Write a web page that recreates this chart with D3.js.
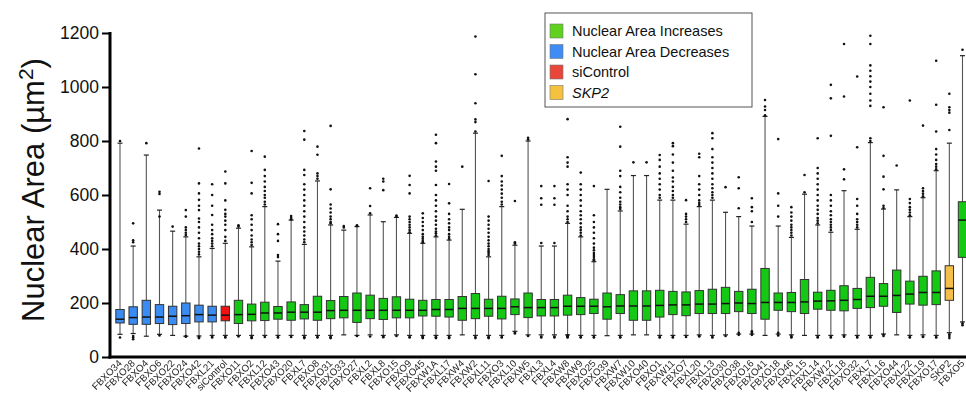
<!DOCTYPE html>
<html>
<head>
<meta charset="utf-8">
<script src="https://cdnjs.cloudflare.com/ajax/libs/d3/7.8.5/d3.min.js"></script>
<style>
  body { margin: 0; background: #fff; }
  svg { display: block; font-family: Arial, "Liberation Sans", sans-serif; }
  .xlabels { opacity: 0.99; }
</style>
</head>
<body>
<svg id="chart" width="966" height="394"></svg>
<script>
// knockdown targets, in plot order
const categories = ['FBXO34','FBXO28','FBXO4','FBXO6','FBXO22','FBXO24','FBXO42','FBXL21','siControl','FBXO11',
  'FBXO2','FBXL12','FBXO43','FBXO20','FBXL7','FBXO8','FBXO31','FBXO33','FBXO27','FBXL2',
  'FBXL8','FBXO15','FBXO9','FBXO45','FBXW1A','FBXL17','FBXW4','FBXW2','FBXL11','FBXO3',
  'FBXL10','FBXW5','FBXL3','FBXL4','FBXW8','FBXW9','FBXO25','FBXO39','FBXW7','FBXW10',
  'FBXO40','FBXO1','FBXW11','FBXO7','FBXL20','FBXL13','FBXO30','FBXO38','FBXO16','FBXO41',
  'FBXO18','FBXO46','FBXL15','FBXL14','FBXW12','FBXL18','FBXO32','FBXL7','FBXL16','FBXO44',
  'FBXL22','FBXL19','FBXO17','SKP2','FBXO5'];

// group of each box: dec / ctrl / inc / skp2
const groups = ['dec','dec','dec','dec','dec','dec','dec','dec','ctrl','inc',
  'inc','inc','inc','inc','inc','inc','inc','inc','inc','inc',
  'inc','inc','inc','inc','inc','inc','inc','inc','inc','inc',
  'inc','inc','inc','inc','inc','inc','inc','inc','inc','inc',
  'inc','inc','inc','inc','inc','inc','inc','inc','inc','inc',
  'inc','inc','inc','inc','inc','inc','inc','inc','inc','inc',
  'inc','inc','inc','skp2','inc'];

const q1 = [126,121,121,124,120,124,130,130,134,124, 134,135,140,136,141,136,142,145,128,142,
  139,145,145,152,151,148,136,142,151,141, 157,146,152,152,155,157,161,140,161,136,
  136,148,157,153,161,161,161,168,161,140, 173,168,161,177,173,171,180,183,188,165,
  196,192,194,210,369];
const medians = [140,146,148,148,151,153,157,155,155,157, 158,163,163,166,166,166,172,173,173,173,
  173,173,173,173,176,176,180,180,180,180, 186,183,183,183,188,188,188,186,189,189,
  189,191,193,193,196,196,198,200,198,202, 202,202,204,207,208,210,213,225,225,228,
  233,239,239,254,507];
const q3 = [176,186,210,194,188,200,192,188,188,210, 196,203,187,204,194,225,209,224,237,229,
  217,223,214,210,213,213,224,235,214,225, 215,237,213,213,229,220,214,237,231,245,
  245,247,243,241,246,251,258,243,251,328, 237,239,287,240,247,264,254,295,272,322,
  281,299,319,338,575];
const whiskerLow = [84,87,77,84,80,77,78,80,80,80, 80,80,80,80,80,80,80,82,80,82,
  80,82,80,80,80,80,82,80,80,80, 95,82,82,82,82,80,80,79,80,82,
  82,80,80,80,82,80,82,85,85,80, 85,82,80,80,80,82,80,80,85,82,
  80,82,80,90,130];
const whiskerHigh = [792,411,748,544,466,445,371,402,421,477, 408,557,355,507,417,652,489,470,483,526,
  501,517,458,421,445,433,547,829,371,557, 414,800,411,411,495,445,353,621,541,672,
  672,581,581,492,557,581,536,520,485,891, 485,443,603,489,462,616,473,794,548,619,
  520,590,690,792,1116];

const outliers = [
  [800,72], [425,432,495,72,66,78], [792], [604,612,520,80], [483],
  [452,460,470,480,520,544,75,78],
  [380,390,400,410,420,440,460,480,500,513,544,560,582,606,643,772,72,75,70],
  [410,420,430,440,455,470,490,526,560,600,640,75,72],
  [430,445,470,490,505,520,530,545,580,643,687,74,72],
  [483,488,76],
  [415,425,435,450,470,490,510,525,606,645,763,74,70,72],
  [565,575,590,600,615,630,650,670,693,742,74],
  [370,378,430,455,492,72,74],
  [510,515,522,74],
  [425,435,450,465,480,500,520,540,560,580,600,620,640,674,693,805,837,72,70,74],
  [660,670,680,749,779,74,72],
  [495,500,510,520,535,550,565,621,856,74,70,72],
  [480,485], [485,488,78], [532,559,625,76], [618,650,660,76,73], [520,524,78],
  [462,470,480,490,500,510,520,606,637,671,74,72],
  [425,430,438,445,455,470,485,500,515,532,72,70,74,76],
  [450,458,465,475,490,505,520,540,560,580,600,637,690,705,724,792,823,72,70,74],
  [438,445,455,470,480,495,510,530,569,641,72,70,74],
  [705],
  [835,870,880,940,1047,1187,74,70],
  [378,385,392,400,410,420,432,445,460,475,490,505,520,652,72,70,74],
  [565,575,590,605,620,635,650,670,745,74,72],
  [420,425,578,90,87],
  [806,812,78],
  [422,564,588,633,76,72], [422,564,588,633,76,72],
  [500,510,520,540,560,600,620,640,705,720,740,881,80,78,76,74,72],
  [450,460,470,480,495,510,525,540,560,580,600,620,640,683,74,72],
  [358,362,370,378,385,395,405,420,440,460,480,500,525,633,72,74],
  [],
  [548,555,565,575,590,610,630,670,690,779,853,74,72],
  [721], [721],
  [590,600,620,640,660,680,705,730,748,74,72],
  [590,600,615,630,650,665,690,720,750,781,792,74,72],
  [500,510,520,530,581,74],
  [563,570,580,600,620,640,670,740,753,78,76],
  [590,600,610,625,640,660,680,700,720,740,770,810,829,74,72],
  [629,78],
  [551,625,666,82,90],
  [500,540,555,588,90,95,82],
  [895,915,928,952],
  [520,560,606,807,80,90],
  [450,460,470,480,490,505,520,535,555,78,74,72],
  [610,674],
  [495,505,515,530,545,560,580,600,620,640,660,680,700,810,74,72],
  [470,480,490,500,510,525,540,560,580,600,819,958,1008,74,72],
  [658,695,965,1159,78,75],
  [480,490,500,510,530,560,585,777,1039,74,72],
  [800,810,930,950,975,1000,1020,1040,1060,1080,1159,1190,74,72],
  [552,560,621,668,745,925,82,78],
  [709],
  [525,535,545,555,570,585,950,74,72],
  [595,605,615,625,857,76,74],
  [695,705,715,730,750,770,835,934,1097,74,72],
  [841,905,915,925,975,84,78,70],
  [1138,125,118]
];

const yTicks = [0, 200, 400, 600, 800, 1000, 1200];

const legendItems = [
  { label: 'Nuclear Area Increases', color: '#5fd11e', italic: false },
  { label: 'Nuclear Area Decreases', color: '#3f8cf5', italic: false },
  { label: 'siControl', color: '#e8453b', italic: false },
  { label: 'SKP2', color: '#f4c23e', italic: true }
];

const boxColor = { dec: '#3a8cf2', ctrl: '#f01212', inc: '#14c814', skp2: '#f3bf4a' };

const svg = d3.select('#chart');
const margin = { left: 110, top: 33, bottom: 357 };

const x = d3.scalePoint()
  .domain(d3.range(categories.length))
  .range([120, 962.5]);

const y = d3.scaleLinear()
  .domain([0, 1200])
  .range([margin.bottom, margin.top]);

const boxW = 8.4;
const capW = 5;

const data = categories.map((name, i) => ({
  i: i, name: name, group: groups[i],
  q1: q1[i], med: medians[i], q3: q3[i],
  lo: whiskerLow[i], hi: whiskerHigh[i], out: outliers[i]
}));

const g = svg.append('g');

const box = g.selectAll('.box')
  .data(data)
  .enter().append('g')
  .attr('class', 'box');

// whiskers
box.append('line')
  .attr('x1', d => x(d.i)).attr('x2', d => x(d.i))
  .attr('y1', d => y(d.hi)).attr('y2', d => y(d.lo))
  .attr('stroke', '#555').attr('stroke-width', 1.1);

box.append('line')
  .attr('x1', d => x(d.i) - capW / 2).attr('x2', d => x(d.i) + capW / 2)
  .attr('y1', d => y(d.hi)).attr('y2', d => y(d.hi))
  .attr('stroke', '#222').attr('stroke-width', 1.2);

box.append('line')
  .attr('x1', d => x(d.i) - capW / 2).attr('x2', d => x(d.i) + capW / 2)
  .attr('y1', d => y(d.lo)).attr('y2', d => y(d.lo))
  .attr('stroke', '#222').attr('stroke-width', 1.2);

// boxes
box.append('rect')
  .attr('x', d => x(d.i) - boxW / 2)
  .attr('width', boxW)
  .attr('y', d => y(d.q3))
  .attr('height', d => y(d.q1) - y(d.q3))
  .attr('fill', d => boxColor[d.group])
  .attr('stroke', '#333')
  .attr('stroke-width', 1);

box.append('line')
  .attr('x1', d => x(d.i) - boxW / 2).attr('x2', d => x(d.i) + boxW / 2)
  .attr('y1', d => y(d.med)).attr('y2', d => y(d.med))
  .attr('stroke', '#111').attr('stroke-width', 1.5);

// outlier dots
box.selectAll('.dot')
  .data(d => d.out.map(v => ({ i: d.i, v: v })))
  .enter().append('circle')
  .attr('class', 'dot')
  .attr('cx', d => x(d.i))
  .attr('cy', d => y(d.v))
  .attr('r', 1.3)
  .attr('fill', '#111');

// y axis
const yAxis = g.append('g')
  .attr('transform', 'translate(' + margin.left + ',0)')
  .call(d3.axisLeft(y).tickValues(yTicks).tickSize(8).tickPadding(3).tickFormat(d3.format('d')));
yAxis.select('.domain').attr('stroke', '#000').attr('stroke-width', 3)
  .attr('d', 'M0,' + (margin.top - 1) + 'V' + (margin.bottom + 1.5));
yAxis.selectAll('.tick line').attr('stroke', '#000').attr('stroke-width', 2);
yAxis.selectAll('.tick text').attr('font-size', 17.5).attr('fill', '#111')
  .attr('font-family', 'Arial, "Liberation Sans", sans-serif');

// x axis
const xAxis = g.append('g')
  .attr('transform', 'translate(0,' + margin.bottom + ')')
  .call(d3.axisBottom(x).tickSize(0).tickFormat(i => categories[i]));
xAxis.select('.domain').attr('stroke', '#000').attr('stroke-width', 3)
  .attr('d', 'M' + (margin.left - 1.5) + ',0H966');
xAxis.attr('class', 'xlabels');
xAxis.selectAll('.tick text')
  .attr('font-size', 9.8)
  .attr('fill', '#1a1a1a')
  .attr('font-family', 'Arial, "Liberation Sans", sans-serif')
  .attr('text-anchor', 'end')
  .attr('dy', 0)
  .attr('transform', 'translate(2,7) rotate(-45)')
  .attr('y', 0).attr('x', 0);

// y title
svg.append('text')
  .attr('transform', 'translate(44,190) rotate(-90)')
  .attr('text-anchor', 'middle')
  .attr('font-size', 31)
  .attr('fill', '#111')
  .text('Nuclear Area (µm')
  .append('tspan').attr('baseline-shift', 'super').attr('font-size', 21).text('2')
  .select(function () { return this.parentNode; })
  .append('tspan').text(')');

// legend
const lg = svg.append('g').attr('transform', 'translate(545,13)');
lg.append('rect')
  .attr('width', 207).attr('height', 94)
  .attr('fill', '#fff').attr('stroke', '#555').attr('stroke-width', 1);

const li = lg.selectAll('.li')
  .data(legendItems)
  .enter().append('g')
  .attr('class', 'li')
  .attr('transform', (d, i) => 'translate(5,' + (11 + i * 20.5) + ')');

li.append('rect')
  .attr('width', 13).attr('height', 14)
  .attr('fill', d => d.color).attr('stroke', '#777').attr('stroke-width', 0.6);

li.append('text')
  .attr('x', 22).attr('y', 12)
  .attr('font-size', 14.5)
  .attr('fill', '#111')
  .attr('font-style', d => d.italic ? 'italic' : 'normal')
  .text(d => d.label);
</script>
</body>
</html>
